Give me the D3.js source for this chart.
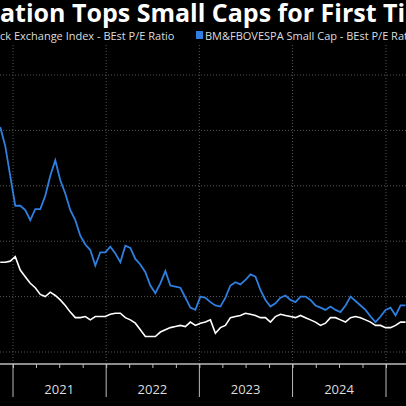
<!DOCTYPE html>
<html><head><meta charset="utf-8">
<script src="https://cdn.jsdelivr.net/npm/d3@7"></script>
<style>body{margin:0;background:#000}svg{display:block}</style>
</head><body><div id="chart"></div>
<script>
// P/E ratios, sampled roughly every 20 days from mid-Nov 2020
const startDate = "2020-11-12";
const stepDays = 19.6;
const smallCap = [25.3,23.6,20.9,18.2,18.2,17.8,16.9,17.9,17.9,19.1,20.9,22.3,20.5,19.3,17.8,16.9,15.5,14.7,14.2,12.8,14.0,14.0,14.5,13.9,13.1,14.6,14.4,13.4,12.9,12.2,11.0,10.3,11.2,12.3,11.0,10.9,10.8,9.9,9.0,8.8,10.0,9.9,9.5,9.2,9.1,9.9,11.0,11.3,11.1,11.5,12.0,11.8,10.6,9.7,9.1,9.4,9.9,10.1,9.7,9.5,10.0,10.0,9.7,9.2,9.0,8.8,9.1,8.8,8.6,9.2,10.0,9.6,9.2,8.8,8.2,7.7,8.2,8.8,9.0,8.3,9.2,9.2];
const ibov = [13.1,13.1,13.2,13.6,12.4,11.8,11.2,10.8,10.2,10.0,10.4,10.1,9.7,9.2,8.6,8.1,8.1,8.2,7.9,8.2,8.2,8.2,8.4,8.5,8.5,8.1,7.9,7.6,7.0,6.4,6.4,6.4,6.8,7.0,7.2,7.3,7.4,7.3,7.7,7.4,7.6,7.7,7.9,6.7,7.2,7.4,8.1,8.2,8.3,8.5,8.4,8.3,8.1,8.1,7.7,8.2,8.4,8.3,8.2,8.1,8.3,8.1,7.9,7.7,7.4,7.6,8.1,8.1,7.9,7.7,8.1,8.2,8.1,7.9,7.7,7.4,7.4,7.2,7.2,7.4,7.7,7.7];
const yTicks = [5,10,15,20,25,30];
const yearLabels = ["2021","2022","2023","2024"];
const titleText = "Valuation Tops Small Caps for First Time";
const legend1 = "Ibovespa Brasil Sao Paulo Stock Exchange Index - BEst P/E Ratio";
const legend2 = "BM&FBOVESPA Small Cap - BEst P/E Ratio";

const W = 406, H = 406;
const svg = d3.select("#chart").append("svg").attr("width", W).attr("height", H)
  .style("font-family", "'Open Sans', sans-serif");

const t0 = d3.isoParse(startDate);
const dates = smallCap.map((_, i) => new Date(+t0 + i * stepDays * 864e5));

const x = d3.scaleTime()
  .domain([new Date(2021,0,1), new Date(2025,0,1)])
  .range([13, 386]);
const y = d3.scaleLinear().domain([5, 30]).range([352, 75]);

// grid
svg.append("g").selectAll("line").data(yTicks).join("line")
  .attr("x1", 0).attr("x2", W).attr("y1", d => y(d)).attr("y2", d => y(d))
  .attr("stroke", "#555").attr("stroke-dasharray", "1,2");
const years = d3.timeYear.range(new Date(2021,0,1), new Date(2025,0,2));
svg.append("g").selectAll("line").data(years).join("line")
  .attr("x1", d => x(d)).attr("x2", d => x(d)).attr("y1", 45).attr("y2", 364)
  .attr("stroke", "#555").attr("stroke-dasharray", "1,2");

// axis
const axisY = 364;
svg.append("line").attr("x1", 0).attr("x2", W).attr("y1", axisY).attr("y2", axisY)
  .attr("stroke", "#bbb").attr("stroke-width", 1.5);
svg.append("g").attr("transform", `translate(0,${axisY})`)
  .call(d3.axisBottom(x).ticks(d3.timeMonth.every(3)).tickSize(4).tickFormat(""))
  .call(g => g.select(".domain").remove())
  .call(g => g.selectAll("line").attr("stroke", "#bbb"));
svg.append("g").selectAll("line").data(years).join("line")
  .attr("x1", d => x(d)).attr("x2", d => x(d)).attr("y1", axisY).attr("y2", 397)
  .attr("stroke", "#bbb");
svg.append("g").selectAll("text").data(yearLabels).join("text")
  .attr("x", d => x(new Date(+d, 6, 1)))
  .attr("y", 394).attr("text-anchor", "middle")
  .attr("fill", "#ddd").attr("font-size", 13).text(d => d);

// lines
const line = d3.line().x((d, i) => x(dates[i])).y(d => y(d)).curve(d3.curveLinear);
svg.append("path").datum(ibov).attr("d", line)
  .attr("fill", "none").attr("stroke", "#fff").attr("stroke-width", 1.6);
svg.append("path").datum(smallCap).attr("d", line)
  .attr("fill", "none").attr("stroke", "#2f7fe0").attr("stroke-width", 1.8);

// title (cropped at the left edge)
const title = svg.append("text").attr("y", 22).attr("fill", "#fff")
  .attr("font-size", 25).attr("font-weight", "bold").text(titleText);
const pre = svg.append("text").attr("font-size", 25).attr("font-weight", "bold").text("Valu");
title.attr("x", -pre.node().getComputedTextLength()); pre.remove();

const l1 = svg.append("text").attr("y", 40).attr("fill", "#ddd").attr("font-size", 11).text(legend1);
const pre2 = svg.append("text").attr("font-size", 11).text("Ibovespa Brasil Sao Paulo Sto");
l1.attr("x", -pre2.node().getComputedTextLength()); pre2.remove();
svg.append("rect").attr("x", 196).attr("y", 31).attr("width", 7).attr("height", 8).attr("fill", "#2f7fe0");
svg.append("text").attr("x", 205).attr("y", 40).attr("fill", "#ddd").attr("font-size", 11).text(legend2);
</script></body></html>
